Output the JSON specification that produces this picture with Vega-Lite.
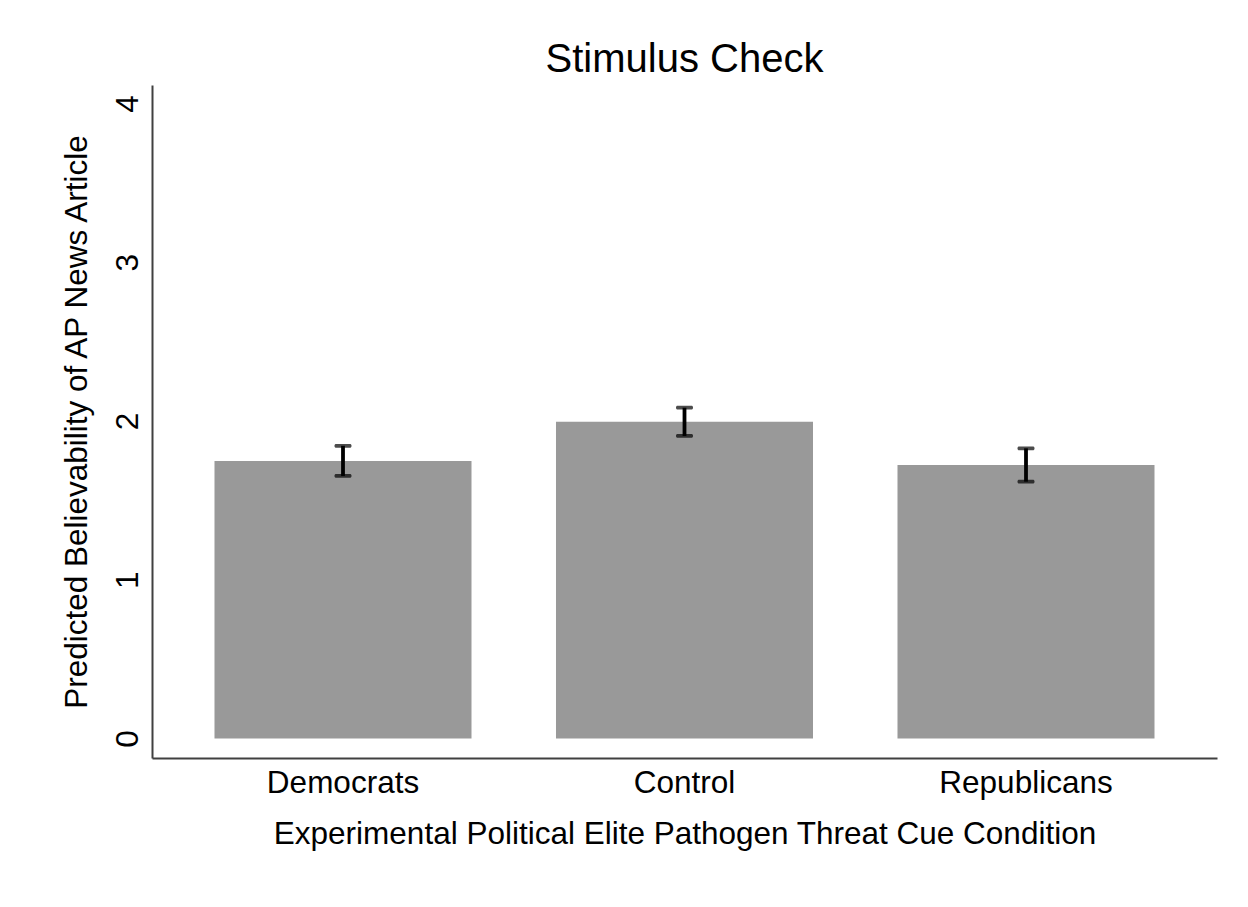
{
  "$schema": "https://vega.github.io/schema/vega-lite/v6.json",
  "width": 1065,
  "height": 673,
  "autosize": {"type": "none"},
  "padding": {"left": 152, "top": 85, "right": 31, "bottom": 149},
  "background": "white",
  "title": {"text": "Stimulus Check", "font": "Liberation Sans", "fontSize": 40, "fontWeight": "normal", "color": "black", "anchor": "middle", "offset": 5},
  "config": {"view": {"stroke": null}, "font": "Liberation Sans"},
  "data": {"values": [
    {"condition": "Democrats", "mean": 1.748, "lo": 1.654, "hi": 1.844},
    {"condition": "Control", "mean": 1.996, "lo": 1.906, "hi": 2.084},
    {"condition": "Republicans", "mean": 1.723, "lo": 1.618, "hi": 1.828}
  ]},
  "encoding": {
    "x": {"field": "condition", "type": "nominal", "sort": ["Democrats", "Control", "Republicans"],
      "scale": {"paddingInner": 0.2474, "paddingOuter": 0.183},
      "axis": {"title": "Experimental Political Elite Pathogen Threat Cue Condition", "labelAngle": 0, "ticks": false,
        "labelFontSize": 31.5, "labelColor": "black", "labelFont": "Liberation Sans", "labelPadding": 9,
        "titleFontSize": 31.5, "titleFontWeight": "normal", "titleColor": "black", "titleFont": "Liberation Sans", "titlePadding": 20,
        "domainColor": "#404040", "domainWidth": 2}}
  },
  "layer": [
    {"mark": {"type": "bar", "color": "#999999"},
     "encoding": {"y": {"field": "mean", "type": "quantitative",
       "scale": {"domain": [-0.123, 4.117], "nice": false, "zero": false},
       "axis": {"title": "Predicted Believability of AP News Article", "values": [0, 1, 2, 3, 4], "format": "d", "grid": false, "ticks": false,
         "labelAngle": 270, "labelFontSize": 31.5, "labelColor": "black", "labelFont": "Liberation Sans", "labelPadding": 8,
         "titleFontSize": 31.5, "titleFontWeight": "normal", "titleColor": "black", "titleFont": "Liberation Sans", "titlePadding": 19,
         "domainColor": "#404040", "domainWidth": 2}},
       "y2": {"datum": 0}}},
    {"mark": {"type": "rule", "color": "black", "strokeWidth": 3.8},
     "encoding": {"y": {"field": "lo", "type": "quantitative"}, "y2": {"field": "hi"}}},
    {"mark": {"type": "tick", "color": "black", "size": 17, "thickness": 3.8, "cornerRadius": 1.5},
     "encoding": {"y": {"field": "lo", "type": "quantitative"}}},
    {"mark": {"type": "tick", "color": "black", "size": 17, "thickness": 3.8, "cornerRadius": 1.5},
     "encoding": {"y": {"field": "hi", "type": "quantitative"}}}
  ]
}
